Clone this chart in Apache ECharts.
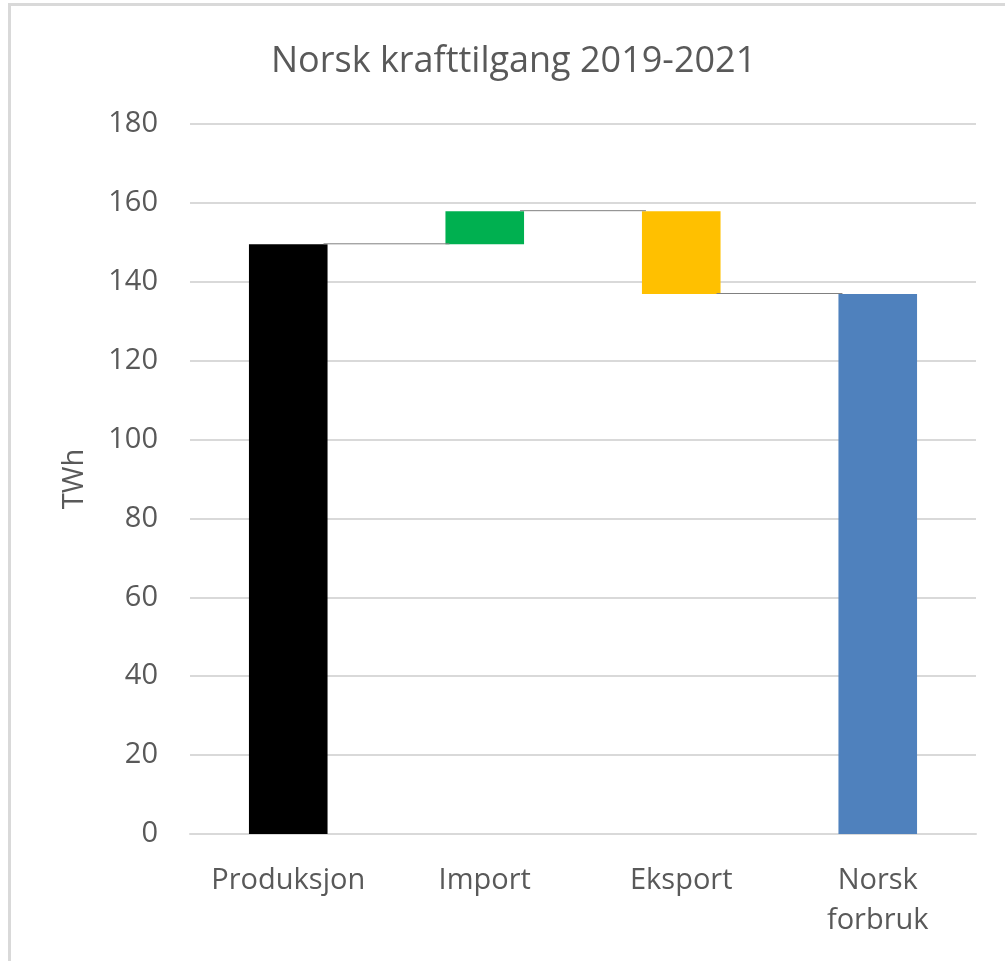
<!DOCTYPE html>
<html>
<head>
<meta charset="utf-8">
<script src="https://cdn.jsdelivr.net/npm/echarts@6/dist/echarts.min.js"></script>
<style>
  html, body { margin: 0; padding: 0; background: #ffffff; }
  #chart { width: 1005px; height: 961px; }
</style>
</head>
<body>
<div id="chart"></div>
<script>
// Norsk krafttilgang 2019-2021 (TWh), waterfall
const categories = ['Produksjon', 'Import', 'Eksport', 'Norsk\nforbruk'];
const amounts = [149.5, 8.4, 21.0, 136.9];
const kinds = ['total', 'increase', 'decrease', 'total'];
const barColors = ['#000000', '#00B050', '#FFC000', '#4F81BD'];
const yTicks = { min: 0, max: 180, interval: 20 };

// Running level after each step, invisible base and visible segment per bar
const base = [];
const visible = [];
const levels = [];
let level = 0;
amounts.forEach((v, i) => {
  if (kinds[i] === 'total') {
    base.push(0);
    visible.push(v);
    level = v;
  } else if (kinds[i] === 'increase') {
    base.push(level);
    visible.push(v);
    level += v;
  } else {
    level -= v;
    base.push(level);
    visible.push(v);
  }
  levels.push(level);
});

// Connector segments: from bar i to bar i+1 at the running level
const connectorData = levels.slice(0, -1).map((lv, i) => [i, lv]);

const FONT = '"Open Sans", sans-serif';
const TEXT = '#595959';
const BAR_FRACTION = 0.4;

const chart = echarts.init(document.getElementById('chart'), null, { renderer: 'canvas' });
chart.setOption({
  animation: false,
  backgroundColor: '#ffffff',
  title: {
    text: 'Norsk krafttilgang 2019-2021',
    left: 266,
    top: 39,
    padding: 5,
    textStyle: { fontFamily: FONT, fontSize: 36, fontWeight: 'normal', color: TEXT }
  },
  graphic: [{
    type: 'rect',
    silent: true,
    shape: { x: 9.5, y: 4.5, width: 1200, height: 1200 },
    style: { fill: 'none', stroke: '#d9d9d9', lineWidth: 3 }
  }],
  grid: { left: 190, right: 29, top: 124, bottom: 127 },
  xAxis: {
    type: 'category',
    data: categories,
    axisLine: { show: true, lineStyle: { color: '#d9d9d9', width: 2 } },
    axisTick: { show: false },
    axisLabel: {
      fontFamily: FONT, fontSize: 29, color: TEXT,
      margin: 27, lineHeight: 40, interval: 0
    }
  },
  yAxis: {
    type: 'value',
    min: yTicks.min, max: yTicks.max, interval: yTicks.interval,
    name: 'TWh',
    nameLocation: 'middle',
    nameGap: 101,
    nameRotate: 90,
    nameTextStyle: { fontFamily: FONT, fontSize: 29, color: TEXT },
    axisLine: { show: false },
    axisTick: { show: false },
    axisLabel: { fontFamily: FONT, fontSize: 29, color: TEXT, margin: 32 },
    splitLine: { lineStyle: { color: '#d9d9d9', width: 2 } }
  },
  series: [
    {
      name: 'base',
      type: 'bar',
      stack: 'fall',
      barCategoryGap: '60%',
      itemStyle: { color: 'transparent' },
      silent: true,
      data: base
    },
    {
      name: 'verdi',
      type: 'bar',
      stack: 'fall',
      barCategoryGap: '60%',
      data: visible.map((v, i) => ({ value: v, itemStyle: { color: barColors[i] } }))
    },
    {
      name: 'kobling',
      type: 'custom',
      silent: true,
      z: 3,
      data: connectorData,
      encode: { x: 0, y: 1 },
      renderItem: function (params, api) {
        const idx = api.value(0);
        const lv = api.value(1);
        const band = api.size([1, 0])[0];
        const half = band * BAR_FRACTION / 2;
        const p1 = api.coord([idx, lv]);
        const p2 = api.coord([idx + 1, lv]);
        return {
          type: 'line',
          shape: { x1: p1[0] + half - 4, y1: p1[1] - 0.5, x2: p2[0] - half + 4, y2: p2[1] - 0.5 },
          style: { stroke: '#808080', lineWidth: 1 }
        };
      }
    }
  ]
});
</script>
</body>
</html>
